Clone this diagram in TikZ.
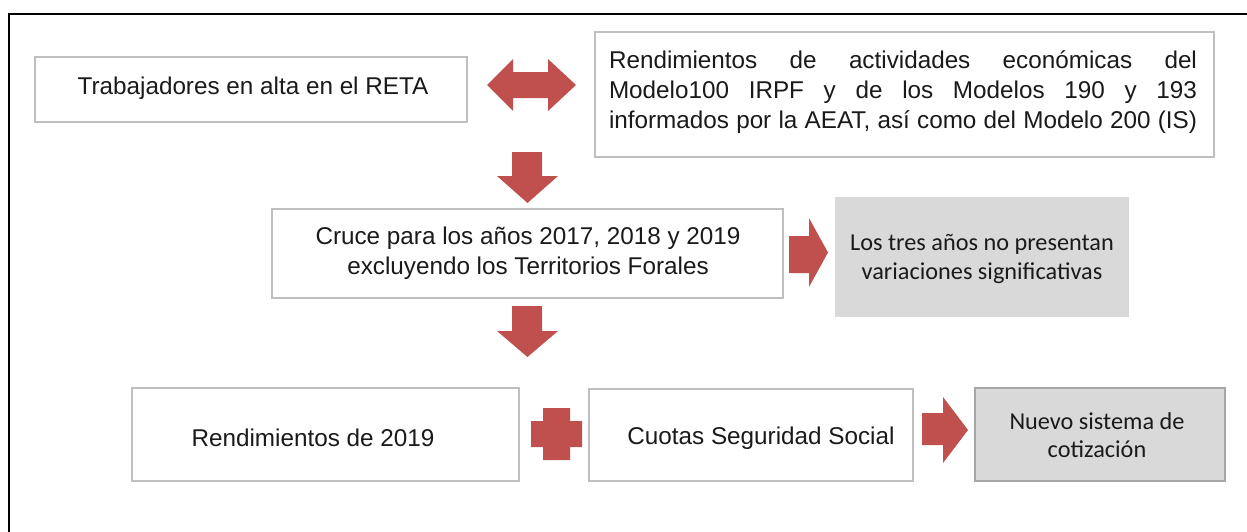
\documentclass[tikz,border=0pt]{standalone}
\usepackage{fontspec}
\setmainfont{Liberation Sans}
\newfontfamily\calibrifont{Carlito}
\definecolor{arrowred}{HTML}{C0504D}
\definecolor{boxline}{HTML}{BFBFBF}
\definecolor{boxlinedark}{HTML}{A6A6A6}
\definecolor{greyfill}{HTML}{D9D9D9}
\definecolor{txt}{HTML}{1A1A1A}
\begin{document}
\begin{tikzpicture}[x=0.75pt,y=-0.75pt,
  box/.style={draw=boxline, line width=1.1pt, fill=white, inner sep=0pt},
  greybox/.style={fill=greyfill, inner sep=0pt},
  lbl/.style={font=\fontsize{18.2}{22.5}\selectfont, text=txt, align=center, inner sep=0pt},
  glbl/.style={font=\calibrifont\fontsize{18.2}{21.5}\selectfont, text=txt, align=center, inner sep=0pt},
  blockarrow/.style={fill=arrowred, draw=none}]
\useasboundingbox (0,0) rectangle (1247,532);
\fill[white] (0,0) rectangle (1247,532);
% outer frame (cut off at right and bottom)
\draw[line width=1.5pt] (9,545) -- (9,14) -- (1260,14);

% boxes
\node[box, minimum width=324pt, minimum height=48.75pt] (reta) at (251,89.5) {};
\node[lbl] (retat) at (253,88) {Trabajadores en alta en el RETA};

\node[box, minimum width=464.25pt, minimum height=93.75pt] (aeat) at (904.5,94.5) {};
\node[lbl, align=left] (aeatt) at (903,92) {%
\makebox[441pt][s]{Rendimientos de actividades económicas del}\\
\makebox[441pt][s]{Modelo100 IRPF y de los Modelos 190 y 193}\\
\makebox[441pt][s]{informados por la AEAT, así como del Modelo 200 (IS)}};

\node[box, minimum width=383.25pt, minimum height=66.75pt] (cruce) at (527.5,253.5) {};
\node[lbl] (crucet) at (528,253) {Cruce para los años 2017, 2018 y 2019\\excluyendo los Territorios Forales};

\node[greybox, minimum width=220.5pt, minimum height=90pt] (tres) at (982,257) {};
\node[glbl] (trest) at (982,259) {Los tres años no presentan\\variaciones significativas};

\node[box, minimum width=290.25pt, minimum height=69.75pt] (rend) at (325.5,434.5) {};
\node[lbl] (rendt) at (313,438) {Rendimientos de 2019};

\node[box, minimum width=243pt, minimum height=69pt] (cuotas) at (751,435) {};
\node[lbl] (cuotast) at (761,438) {Cuotas Seguridad Social};

\node[greybox, draw=boxlinedark, line width=1.1pt, minimum width=187.5pt, minimum height=69.75pt] (nuevo) at (1100,434.5) {};
\node[glbl] (nuevot) at (1097,435) {Nuevo sistema de\\cotización};

% block arrows
\fill[blockarrow] (487,85) -- (513,59) -- (513,72) -- (548,72) -- (548,59) -- (576,85)
  -- (548,111) -- (548,98) -- (513,98) -- (513,111) -- cycle;
\fill[blockarrow] (512,152) -- (542,152) -- (542,176) -- (558,176) -- (527.5,203)
  -- (497,176) -- (512,176) -- cycle;
\fill[blockarrow] (512,306) -- (542,306) -- (542,331) -- (558,331) -- (527.5,357)
  -- (497,331) -- (512,331) -- cycle;
\fill[blockarrow] (789,236) -- (809,236) -- (809,218) -- (828,252.5) -- (809,287)
  -- (809,273) -- (789,273) -- cycle;
\fill[blockarrow] (922,413) -- (943,413) -- (943,397) -- (968,430) -- (943,463)
  -- (943,445) -- (922,445) -- cycle;
% plus sign
\fill[blockarrow] (543,408) -- (570,408) -- (570,421) -- (582,421) -- (582,447) -- (570,447)
  -- (570,460) -- (543,460) -- (543,447) -- (531,447) -- (531,421) -- (543,421) -- cycle;
\end{tikzpicture}
\end{document}
